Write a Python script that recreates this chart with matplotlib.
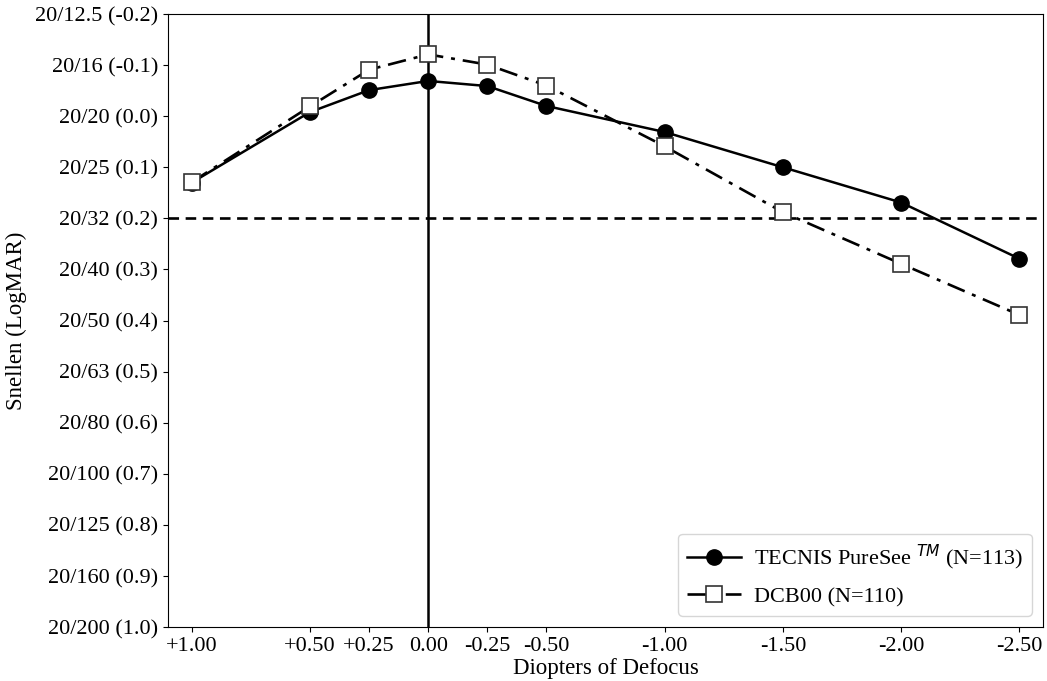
import matplotlib
matplotlib.use("Agg")
import matplotlib.pyplot as plt

plt.rcParams['font.family'] = ['Liberation Serif', 'DejaVu Serif']

defocus = [1.00, 0.50, 0.25, 0.00, -0.25, -0.50, -1.00, -1.50, -2.00, -2.50]
defocus_labels = ['+1.00', '+0.50', '+0.25', '0.00', '-0.25', '-0.50',
                  '-1.00', '-1.50', '-2.00', '-2.50']
tecnis = [0.13, -0.008, -0.051, -0.069, -0.059, -0.020, 0.031, 0.100, 0.169, 0.279]
dcb00 = [0.129, -0.019, -0.091, -0.121, -0.101, -0.060, 0.059, 0.188, 0.289, 0.389]
logmar_ticks = [-0.2, -0.1, 0.0, 0.1, 0.2, 0.3, 0.4, 0.5, 0.6, 0.7, 0.8, 0.9, 1.0]
snellen_labels = ['20/12.5 (-0.2)', '20/16 (-0.1)', '20/20 (0.0)', '20/25 (0.1)',
                  '20/32 (0.2)', '20/40 (0.3)', '20/50 (0.4)', '20/63 (0.5)',
                  '20/80 (0.6)', '20/100 (0.7)', '20/125 (0.8)', '20/160 (0.9)',
                  '20/200 (1.0)']
series_labels = ['TECNIS PureSee $^{TM}$ (N=113)', 'DCB00 (N=110)']

fig = plt.figure(figsize=(10.47, 6.81), dpi=100)
ax = fig.add_axes([0.1605, 0.0793, 0.8357, 0.9001])

ax.axvline(0.0, color='black', lw=1.8, zorder=1)
ax.axhline(0.2, color='black', lw=1.9, ls=(0, (4, 2.5)), zorder=1)

ax.plot(defocus, tecnis, color='black', lw=1.8, marker='o', markersize=11,
        markerfacecolor='black', label=series_labels[0], zorder=3)
ax.plot(defocus, dcb00, color='black', lw=1.9, ls=(0, (7, 3, 1.5, 3)), marker='s',
        markersize=12, markerfacecolor='white', markeredgecolor='#333333',
        markeredgewidth=1.2, label=series_labels[1], zorder=4)

ax.set_xlim(1.1, -2.6)
ax.set_ylim(1.0, -0.2)
ax.set_xticks(defocus)
ax.set_xticklabels(defocus_labels)
ax.set_yticks(logmar_ticks)
ax.set_yticklabels(snellen_labels)
ax.tick_params(labelsize=16)
ax.set_xlabel('Diopters of Defocus', fontsize=16.5, labelpad=2)
ax.set_ylabel('Snellen (LogMAR)', fontsize=16.5, labelpad=6)

ax.legend(loc='lower right', fontsize=16, handlelength=2.4, labelspacing=0.65,
          handletextpad=0.6, borderaxespad=0.5)

fig.savefig('out.png', dpi=100)
